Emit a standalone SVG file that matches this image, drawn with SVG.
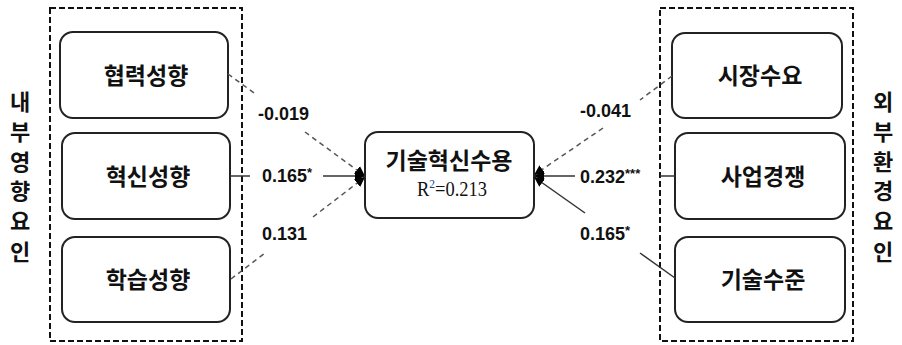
<svg xmlns="http://www.w3.org/2000/svg" width="902" height="345" viewBox="0 0 902 345">
<defs>
<style>
.grp{fill:none;stroke:#111;stroke-width:2;stroke-dasharray:6,3}
.node rect{fill:#fff;stroke:#222;stroke-width:2}
.nt{font-family:"Noto Sans CJK KR","Noto Sans",sans-serif;font-weight:bold;font-size:23px;fill:#111;text-anchor:middle}
.vt{font-family:"Noto Sans CJK KR","Noto Sans",sans-serif;font-weight:bold;font-size:22px;fill:#111;text-anchor:middle}
.lb{font-family:"Liberation Sans",Arial,sans-serif;font-weight:bold;font-size:18px;fill:#111}
.sup{font-size:13px}
.dash{stroke:#555;stroke-width:1.5;stroke-dasharray:5,4;fill:none}
.solid{stroke:#333;stroke-width:1.5;fill:none}
</style>
<marker id="ah" viewBox="0 0 10 10" refX="10" refY="5" markerWidth="10" markerHeight="10" markerUnits="userSpaceOnUse" orient="auto">
<path d="M0,0 L10,5 L0,10 Z" fill="#000" stroke="none"/>
</marker>
</defs>

<g id="group-internal">
<rect class="grp" x="50" y="8" width="192" height="333"/>
<text class="vt" x="20" y="110">내</text>
<text class="vt" x="20" y="140">부</text>
<text class="vt" x="20" y="170">영</text>
<text class="vt" x="20" y="199">향</text>
<text class="vt" x="20" y="229">요</text>
<text class="vt" x="20" y="260">인</text>
</g>
<g id="group-external">
<rect class="grp" x="660" y="8" width="193" height="333"/>
<text class="vt" x="883" y="110">외</text>
<text class="vt" x="883" y="140">부</text>
<text class="vt" x="883" y="170">환</text>
<text class="vt" x="883" y="199">경</text>
<text class="vt" x="883" y="229">요</text>
<text class="vt" x="883" y="260">인</text>
</g>

<g id="n-cooperation" class="node">
<rect x="60" y="32" width="168" height="86" rx="13"/>
<text class="nt" x="146" y="84">협력성향</text>
</g>
<g id="n-innovation" class="node">
<rect x="62" y="133" width="168" height="86" rx="13"/>
<text class="nt" x="148" y="185">혁신성향</text>
</g>
<g id="n-learning" class="node">
<rect x="62" y="237" width="168" height="85" rx="13"/>
<text class="nt" x="148" y="288">학습성향</text>
</g>
<g id="n-adoption" class="node">
<rect x="365" y="132" width="169" height="86" rx="13"/>
<text class="nt" x="449" y="169">기술혁신수용</text>
<text x="417" y="196" font-family="Liberation Serif,serif" font-size="21" fill="#111" textLength="70" lengthAdjust="spacingAndGlyphs">R<tspan font-size="13" dy="-8" fill="#1a3c8c">2</tspan><tspan dy="8">=0.213</tspan></text>
</g>
<g id="n-market" class="node">
<rect x="672" y="33" width="170" height="85" rx="13"/>
<text class="nt" x="760" y="84">시장수요</text>
</g>
<g id="n-competition" class="node">
<rect x="675" y="133" width="170" height="86" rx="13"/>
<text class="nt" x="763" y="185">사업경쟁</text>
</g>
<g id="n-techlevel" class="node">
<rect x="675" y="237" width="170" height="85" rx="13"/>
<text class="nt" x="763" y="288">기술수준</text>
</g>

<g id="connectors">
<line class="dash" x1="228" y1="74" x2="257" y2="95"/>
<line class="dash" x1="305" y1="132" x2="365" y2="176" marker-end="url(#ah)"/>
<line class="solid" x1="230" y1="176" x2="250" y2="176"/>
<line class="solid" x1="323" y1="176" x2="365" y2="176" marker-end="url(#ah)"/>
<line class="dash" x1="231" y1="279" x2="265" y2="253"/>
<line class="dash" x1="313" y1="217" x2="365" y2="177" marker-end="url(#ah)"/>
<line class="dash" x1="672" y1="76" x2="640" y2="100"/>
<line class="dash" x1="603" y1="128" x2="534" y2="175" marker-end="url(#ah)"/>
<line class="solid" x1="675" y1="176" x2="660" y2="176"/>
<line class="solid" x1="575" y1="176" x2="534" y2="176" marker-end="url(#ah)"/>
<line class="solid" x1="675" y1="278" x2="640" y2="253"/>
<line class="solid" x1="585" y1="213" x2="534" y2="177" marker-end="url(#ah)"/>
<text class="lb" x="258" y="120">-0.019</text>
<text class="lb" x="262" y="182">0.165<tspan class="sup" dy="-5">*</tspan></text>
<text class="lb" x="262" y="240">0.131</text>
<text class="lb" x="580" y="117">-0.041</text>
<text class="lb" x="580" y="183">0.232<tspan class="sup" dy="-5">***</tspan></text>
<text class="lb" x="580" y="240">0.165<tspan class="sup" dy="-5">*</tspan></text>
</g>
</svg>
